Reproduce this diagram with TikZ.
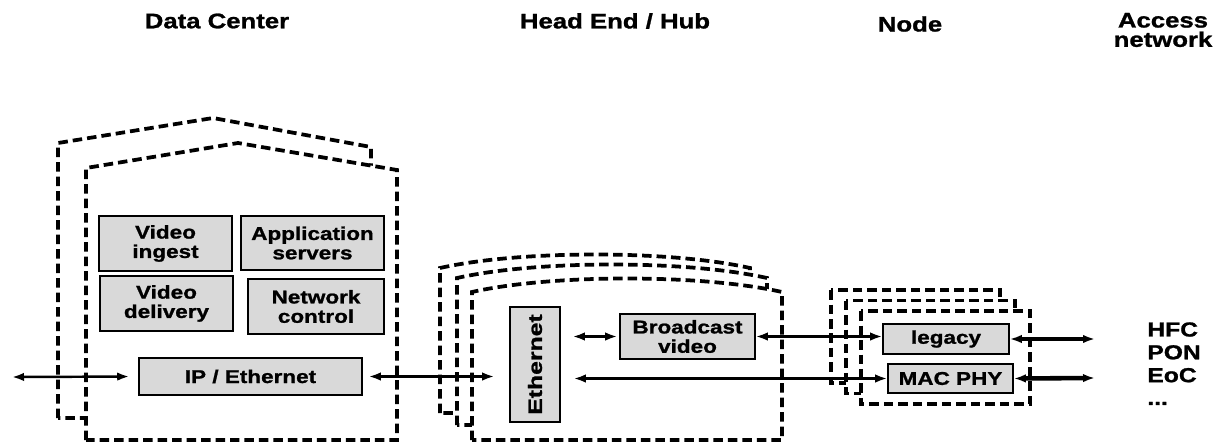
\documentclass[tikz,border=0pt]{standalone}
\usepackage{graphicx}
\usepackage{fontspec}
\setmainfont{Liberation Sans}[FakeStretch=1.22, BoldFeatures={FakeBold=1.2}]
\usetikzlibrary{arrows.meta}

\begin{document}
\begin{tikzpicture}[x=0.02cm, y=-0.02cm, >={Latex[length=2.4mm,width=1.7mm]},
    wall/.style={draw, fill=white, line width=0.075cm, dash pattern=on 0.19cm off 0.1cm},
    gbox/.style={draw, fill=black!15, line width=0.9pt, align=center, inner sep=1pt,
      font=\fontsize{10.5}{11}\selectfont\bfseries},
    hdr/.style={font=\fontsize{12}{11}\selectfont\bfseries, align=center},
    link/.style={<->, line width=1.4pt}]
    \useasboundingbox (0,0) rectangle (1226,443);
    % column titles
    \node[hdr] (dchead) at (217,21) {Data Center};
    \node[hdr] (hehead) at (615,21) {Head End / Hub};
    \node[hdr] (nodehead) at (910,24) {Node};
    \node[hdr] (acchead) at (1163,30) {Access\\network};
    % data center
    \draw[wall] (58,418) -- (58,143) -- (213,118) -- (371,147) -- (371,418) -- cycle;
    \draw[wall] (86,440) -- (86,168) -- (238,143) -- (397,170) -- (397,440) -- cycle;
    % head end / hub
    \foreach \l/\t/\r/\b in {440/268/750/413,457/278/767/425,472/292/782/440} {
      \draw[wall] (\l,\b) -- (\l,\t) .. controls (\l+80,\t-18) and (\r-80,\t-18) .. (\r,\t)
        -- (\r,\b) -- cycle;
    }
    % node
    \foreach \i in {0,1,2} {
      \draw[wall] (831+15*\i,290+10.5*\i) rectangle ++(169,93);
    }
    \node[gbox, minimum width=2.66cm, minimum height=1.1cm] (vingest) at (165.5,243.5) {Video\\ingest};
    \node[gbox, minimum width=2.86cm, minimum height=1.08cm] (appsrv) at (312.5,243) {Application\\servers};
    \node[gbox, minimum width=2.66cm, minimum height=1.1cm] (vdeliv) at (166.5,303.5) {Video\\delivery};
    \node[gbox, minimum width=2.72cm, minimum height=1.1cm] (netctl) at (316,306.5) {Network\\control};
    \node[gbox, minimum width=4.46cm, minimum height=0.74cm] (ipeth) at (250.5,376.5) {IP / Ethernet};
    \node[gbox, rotate=90, minimum width=2.3cm, minimum height=1.0cm] (eth) at (535,364.5)
      {\scalebox{1.1}[1.05]{Ethernet}};
    \node[gbox, minimum width=2.7cm, minimum height=0.9cm] (bcast) at (687.5,336.5) {Broadcast\\video};
    \node[gbox, minimum width=2.52cm, minimum height=0.6cm] (legacy) at (946,339) {legacy};
    \node[gbox, minimum width=2.5cm, minimum height=0.58cm] (mac) at (950.5,378.5) {MAC PHY};
    \node[anchor=north west, inner sep=0pt, align=left,
      font=\fontsize{11.5}{13}\selectfont\bfseries] (acclist) at (1147,322) {HFC\\PON\\EoC\\...};
    % links
    \coordinate (dcwest) at (12,377);
    \coordinate (legout) at (1095,339);
    \coordinate (macout) at (1095,378);
    \draw[link, shorten >=0.18cm] (dcwest) -- (ipeth.west);
    \draw[link, shorten <=0.12cm, shorten >=0.3cm] (ipeth.east) -- (ipeth.east -| eth.north);
    \draw[link, shorten <=0.24cm, shorten >=0.04cm] (bcast.west -| eth.south) -- (bcast.west);
    \draw[link, line width=1.8pt] (bcast.east) -- (bcast.east -| legacy.west);
    \draw[link, shorten <=0.26cm] (mac.west -| eth.south) -- (mac.west);
    \draw[link, line width=2pt] (legacy.east) -- (legout);
    \draw[link, line width=2.6pt] (mac.east) -- (macout);
\end{tikzpicture}
\end{document}
